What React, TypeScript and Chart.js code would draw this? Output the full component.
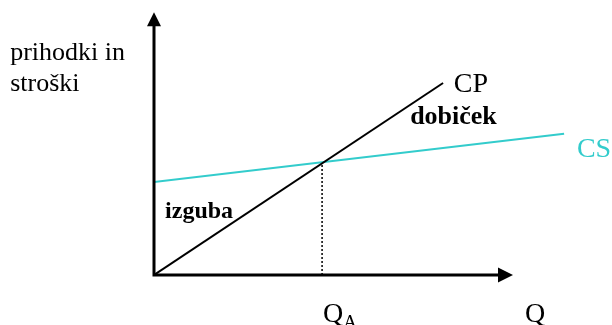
import React, { useEffect, useRef } from "react";
import { Chart, registerables } from "chart.js";

Chart.register(...registerables);

// Quantity (Q) and money values
const revenueQ = [0, 86];
const revenue = [0, 170];
const costQ = [0, 122];
const cost = [82.4, 125];
const breakEvenQ = 50;
const breakEvenValue = 100;
const xAxisEnd = 106.8;
const yAxisEnd = 232.7;

const serif = "'Liberation Serif', 'Times New Roman', serif";

const labelPlugin = {
  id: "breakEvenDecor",
  afterDatasetsDraw(chart: any) {
    const ctx = chart.ctx as CanvasRenderingContext2D;
    const xs = chart.scales.x;
    const ys = chart.scales.y;
    const px = (v: number) => xs.getPixelForValue(v);
    const py = (v: number) => ys.getPixelForValue(v);
    const ox = px(0);
    const oy = py(0);
    ctx.save();
    // axes
    ctx.strokeStyle = "#000";
    ctx.fillStyle = "#000";
    ctx.lineWidth = 3;
    const yTip = py(yAxisEnd);
    const xTip = px(xAxisEnd);
    ctx.beginPath();
    ctx.moveTo(ox, oy);
    ctx.lineTo(ox, yTip + 10);
    ctx.moveTo(ox - 1.5, oy);
    ctx.lineTo(xTip - 10, oy);
    ctx.stroke();
    ctx.beginPath();
    ctx.moveTo(ox, yTip);
    ctx.lineTo(ox - 7, yTip + 14);
    ctx.lineTo(ox + 7, yTip + 14);
    ctx.closePath();
    ctx.fill();
    ctx.beginPath();
    ctx.moveTo(xTip, oy);
    ctx.lineTo(xTip - 15, oy - 7.5);
    ctx.lineTo(xTip - 15, oy + 7.5);
    ctx.closePath();
    ctx.fill();

    ctx.textAlign = "left";
    ctx.textBaseline = "alphabetic";
    const text = (s: string, x: number, y: number, font: string, color = "#000") => {
      ctx.font = font;
      ctx.fillStyle = color;
      ctx.fillText(s, px(x), py(y));
    };
    text("prihodki in", -42.8, 190.4, `26px ${serif}`);
    text("stroški", -42.8, 163, `26px ${serif}`);
    text("CP", 89.2, 162.1, `28px ${serif}`);
    text("dobiček", 76.2, 133.7, `bold 26px ${serif}`);
    text("CS", 125.8, 104.5, `28px ${serif}`, "#33CCCC");
    text("izguba", 3.3, 50.5, `bold 24px ${serif}`);
    text("Q", 50.3, -41.2, `28px ${serif}`);
    ctx.font = `28px ${serif}`;
    const qw = ctx.measureText("Q").width;
    ctx.font = `19px ${serif}`;
    ctx.fillText("A", px(50.3) + qw, py(-41.2) + 6);
    text("Q", 110.4, -41.2, `28px ${serif}`);
    ctx.restore();
  },
};

export default function App() {
  const ref = useRef<HTMLCanvasElement | null>(null);
  useEffect(() => {
    if (!ref.current) return;
    const chart = new Chart(ref.current, {
      type: "scatter",
      data: {
        datasets: [
          {
            label: "CP",
            data: revenueQ.map((q, i) => ({ x: q, y: revenue[i] })),
            showLine: true,
            borderColor: "#000",
            borderWidth: 2,
            pointRadius: 0,
          },
          {
            label: "CS",
            data: costQ.map((q, i) => ({ x: q, y: cost[i] })),
            showLine: true,
            borderColor: "#33CCCC",
            borderWidth: 2,
            pointRadius: 0,
          },
          {
            label: "QA",
            data: [
              { x: breakEvenQ, y: 0 },
              { x: breakEvenQ, y: breakEvenValue },
            ],
            showLine: true,
            borderColor: "#000",
            borderWidth: 1.5,
            borderDash: [2, 2],
            pointRadius: 0,
          },
        ],
      },
      options: {
        responsive: false,
        animation: false,
        devicePixelRatio: 1,
        layout: { padding: { left: 154, right: 21, top: 4, bottom: 50 } },
        plugins: { legend: { display: false }, tooltip: { enabled: false } },
        scales: {
          x: { type: "linear", min: 0, max: 130, display: false },
          y: { type: "linear", min: 0, max: 240, display: false },
        },
      },
      plugins: [labelPlugin],
    });
    return () => chart.destroy();
  }, []);
  return (
    <div style={{ position: "fixed", left: 0, top: 0, width: 612, height: 325, background: "#fff" }}>
      <canvas ref={ref} width={612} height={325} />
    </div>
  );
}
